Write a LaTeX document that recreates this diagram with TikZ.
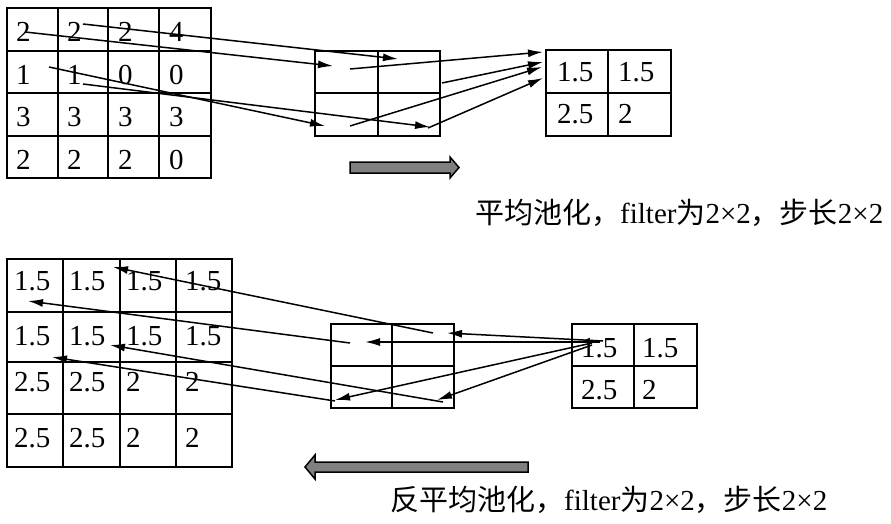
\documentclass[tikz,border=0pt]{standalone}
\usepackage{fontspec}
\setmainfont{Liberation Serif}
\newfontfamily\cjk{Noto Sans CJK SC}
\usetikzlibrary{arrows.meta}
\definecolor{barfill}{HTML}{808080}
\begin{document}
\begin{tikzpicture}[x=1pt, y=-1pt,
  gridline/.style={line width=1.8pt, line cap=rect},
  num/.style={anchor=base west, inner sep=0pt, font=\fontsize{29}{33}\selectfont},
  arr/.style={line width=1.5pt, -{Latex[length=15pt,width=8pt]}},
  bigarrow/.style={draw, fill=barfill, line width=1.5pt, line join=miter},
  caption/.style={anchor=west, inner sep=0pt, font=\fontsize{29}{34}\selectfont}]
\useasboundingbox (0,0) rectangle (891,524);

% ---- pooling (top) ----
\foreach \x in {7,58,108,159,211} \draw[gridline] (\x,8) -- (\x,178);
\foreach \y in {8,51,93,136,178} \draw[gridline] (7,\y) -- (211,\y);
\foreach \v [count=\i from 0] in {2,2,2,4,1,1,0,0,3,3,3,3,2,2,2,0} {
  \pgfmathtruncatemacro\c{mod(\i,4)}
  \pgfmathtruncatemacro\r{div(\i,4)}
  \node[num] (in\i) at (16+51*\c, 42+42.5*\r) {\v};
}
\foreach \x in {315,378,440} \draw[gridline] (\x,51) -- (\x,136);
\foreach \y in {51,93,136} \draw[gridline] (315,\y) -- (440,\y);
\foreach \x in {546,608,671} \draw[gridline] (\x,50) -- (\x,136);
\foreach \y in {50,93,136} \draw[gridline] (546,\y) -- (671,\y);
\node[num] (out1) at (557,82) {1.5};
\node[num] (out2) at (618,82) {1.5};
\node[num] (out3) at (557,124) {2.5};
\node[num] (out4) at (618,124) {2};

\coordinate (t1s) at (25,32);   \coordinate (t1e) at (333,66);
\coordinate (t2s) at (83,24);   \coordinate (t2e) at (398,59);
\coordinate (t3s) at (49,67);   \coordinate (t3e) at (325,126);
\coordinate (t4s) at (83,84);   \coordinate (t4e) at (430,127);
\coordinate (t5s) at (350,69);  \coordinate (t5e) at (543,52);
\coordinate (t6s) at (442,83);  \coordinate (t6e) at (543,62);
\coordinate (t7s) at (350,126); \coordinate (t7e) at (542,67);
\coordinate (t8s) at (428,128); \coordinate (t8e) at (543,78);
\foreach \k in {1,...,8} \draw[arr] (t\k s) -- (t\k e);

\draw[bigarrow] (350,162) -- (450,162) -- (450,157) -- (459,167.5)
  -- (450,178) -- (450,173) -- (350,173) -- cycle;
\node[caption] (cap1) at (475,213)
  {{\cjk 平均池化，}filter{\cjk 为}2×2{\cjk ，步长}2×2};

% ---- unpooling (bottom) ----
\foreach \x in {7,63,120,176,232} \draw[gridline] (\x,259) -- (\x,467);
\foreach \y in {259,312,362,414,467} \draw[gridline] (7,\y) -- (232,\y);
\foreach \v [count=\i from 0] in {1.5,1.5,1.5,1.5,1.5,1.5,1.5,1.5,2.5,2.5,2,2,2.5,2.5,2,2} {
  \pgfmathtruncatemacro\c{mod(\i,4)}
  \pgfmathtruncatemacro\r{div(\i,4)}
  \pgfmathsetmacro\px{{14,69,126,185}[\c]}
  \pgfmathsetmacro\py{{290,345,391,447}[\r]}
  \node[num] (up\i) at (\px,\py) {\v};
}
\foreach \x in {331,392,454} \draw[gridline] (\x,324) -- (\x,408);
\foreach \y in {324,366,408} \draw[gridline] (331,\y) -- (454,\y);
\foreach \x in {572,634,697} \draw[gridline] (\x,324) -- (\x,408);
\foreach \y in {324,366,408} \draw[gridline] (572,\y) -- (697,\y);
\node[num] (src1) at (581,357) {1.5};
\node[num] (src2) at (642,357) {1.5};
\node[num] (src3) at (581,399) {2.5};
\node[num] (src4) at (642,399) {2};

\coordinate (b1s) at (603,341); \coordinate (b1e) at (447,333);
\coordinate (b2s) at (600,342); \coordinate (b2e) at (365,342);
\coordinate (b3s) at (592,343); \coordinate (b3e) at (335,400);
\coordinate (b4s) at (592,345); \coordinate (b4e) at (437,400);
\coordinate (b5s) at (433,333); \coordinate (b5e) at (113,267);
\coordinate (b6s) at (350,343); \coordinate (b6e) at (28,301);
\coordinate (b7s) at (443,402); \coordinate (b7e) at (110,345);
\coordinate (b8s) at (335,401); \coordinate (b8e) at (52,357);
\foreach \k in {1,...,8} \draw[arr] (b\k s) -- (b\k e);

\draw[bigarrow] (528,462) -- (315,462) -- (315,455) -- (305,467)
  -- (315,479) -- (315,472) -- (528,472) -- cycle;
\node[caption] (cap2) at (390,500)
  {{\cjk 反平均池化，}filter{\cjk 为}2×2{\cjk ，步长}2×2};
\end{tikzpicture}
\end{document}
